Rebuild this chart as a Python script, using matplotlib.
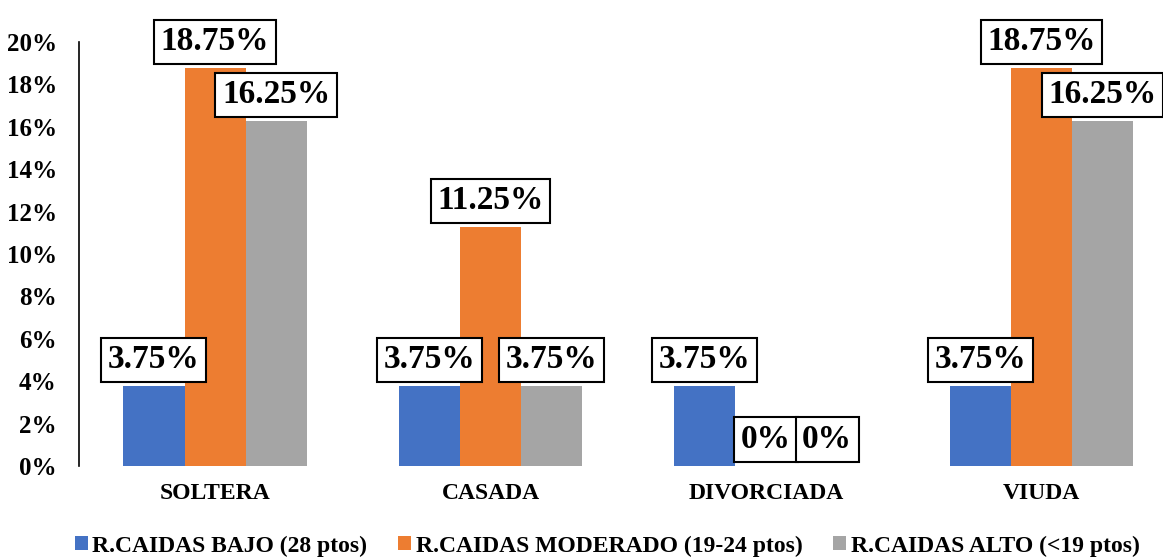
#!/usr/bin/env python3
"""
Riesgo de caidas por estado civil - grouped bar chart
"""

import matplotlib.pyplot as plt
import numpy as np

# Data (percent)
categories = ['SOLTERA', 'CASADA', 'DIVORCIADA', 'VIUDA']
series_names = ['R.CAIDAS BAJO (28 ptos)',
                'R.CAIDAS MODERADO (19-24 ptos)',
                'R.CAIDAS ALTO (<19 ptos)']
bajo = [3.75, 3.75, 3.75, 3.75]
moderado = [18.75, 11.25, 0, 18.75]
alto = [16.25, 3.75, 0, 16.25]
colors = ['#4472C4', '#ED7D31', '#A5A5A5']
y_ticks = [0, 2, 4, 6, 8, 10, 12, 14, 16, 18, 20]

plt.rcParams['font.family'] = ['Liberation Serif', 'DejaVu Serif']
plt.rcParams['font.weight'] = 'bold'

fig = plt.figure(figsize=(11.63, 5.59), dpi=100)
ax = fig.add_axes([79 / 1163, 0.1664, 1 - 79 / 1163, 0.9249 - 0.1664])

x = np.arange(len(categories))
width = 0.222

for i, (vals, name) in enumerate(zip([bajo, moderado, alto], series_names)):
    pos = x + (i - 1) * width
    ax.bar(pos, vals, width, color=colors[i], label=name)
    for xp, v in zip(pos, vals):
        ax.annotate(f'{v:g}%', (xp, v), xytext=(0, 8), textcoords='offset points',
                    ha='center', va='bottom', fontsize=24, fontweight='bold',
                    annotation_clip=False,
                    bbox=dict(boxstyle='square,pad=0.2', fc='white',
                              ec='black', lw=1.5))

ax.set_xlim(-0.494, 3.441)
ax.set_ylim(0, 20)
ax.set_yticks(y_ticks)
ax.set_yticklabels([f'{t}%' for t in y_ticks], fontsize=18, fontweight='bold')
ax.set_xticks(x)
ax.set_xticklabels(categories, fontsize=17, fontweight='bold')
ax.tick_params(axis='y', length=0, pad=16)
ax.tick_params(axis='x', length=0, pad=12)

for side in ['top', 'right', 'bottom']:
    ax.spines[side].set_visible(False)
ax.spines['left'].set_linewidth(1.2)

fig.legend(loc='center', bbox_to_anchor=(0.522, 0.023), ncol=3, frameon=False,
           prop={'size': 17, 'weight': 'bold'}, handlelength=0.55,
           handleheight=0.55, handletextpad=0.2, columnspacing=1.3)

plt.savefig('out.png', dpi=100)
plt.close()
